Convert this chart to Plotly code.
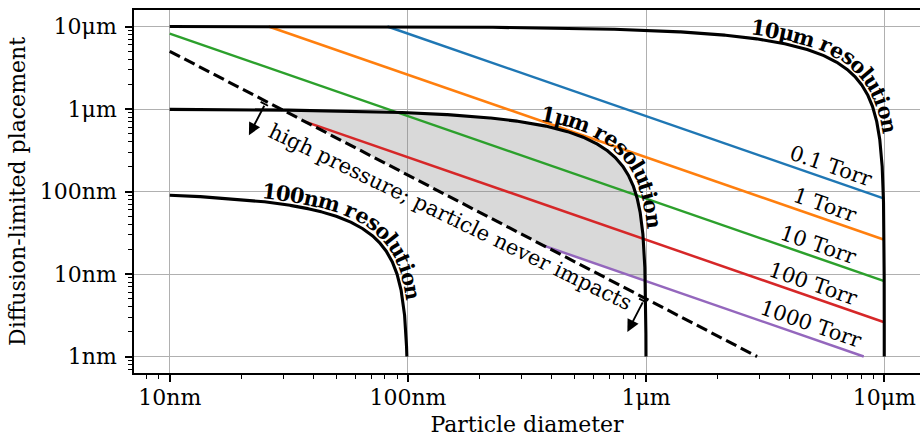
import numpy as np
import plotly.graph_objects as go

# ---------------- data ----------------
x_tickvals = [1e-8, 1e-7, 1e-6, 1e-5]
x_ticktext = ["10nm", "100nm", "1μm", "10μm"]
y_tickvals = [1e-9, 1e-8, 1e-7, 1e-6, 1e-5]
y_ticktext = ["1nm", "10nm", "100nm", "1μm", "10μm"]

pressure_labels = ["0.1 Torr", "1 Torr", "10 Torr", "100 Torr", "1000 Torr"]
# diffusion-limited placement read at a 10 μm particle diameter (lines have slope -1)
placement_at_10um = [8.2e-8, 2.6e-8, 8.2e-9, 2.6e-9, 8.2e-10]
pressure_colors = ["#1f77b4", "#ff7f0e", "#2ca02c", "#d62728", "#9467bd"]

resolutions = [1e-7, 1e-6, 1e-5]
resolution_labels = ["100nm resolution", "1μm resolution", "10μm resolution"]

# high-pressure limit (dashed): placement at 10 nm diameter and log-log slope
hp_placement_at_10nm = 5.0e-6
hp_slope = -1.5

# data domain
X_MIN, X_MAX = 1e-8, 1e-5
Y_MIN, Y_MAX = 1e-9, 1e-5

# ---------------- layout constants ----------------
W, H = 920, 437
ML, MR, MT, MB = 134, 0, 10, 64
PW, PH = W - ML - MR, H - MT - MB
XR = [-8.15, -4.85]
YR = [-9.2, -4.8]
FONT = "DejaVu Serif"
FS = 22
LABEL_FS = 21
HP_FS = 21
BOLD_FS = 21


def lx2px(lx):
    return ML + (np.asarray(lx) - XR[0]) / (XR[1] - XR[0]) * PW


def ly2py(ly):
    return MT + (YR[1] - np.asarray(ly)) / (YR[1] - YR[0]) * PH


def px2lx(px):
    return XR[0] + (np.asarray(px) - ML) / PW * (XR[1] - XR[0])


def py2ly(py):
    return YR[1] - (np.asarray(py) - MT) / PH * (YR[1] - YR[0])


def hp_limit(x):
    return hp_placement_at_10nm * (np.asarray(x) / 1e-8) ** hp_slope


def res_curve(R, n=600):
    x1 = np.logspace(np.log10(X_MIN), np.log10(R / 2), n)
    y2 = np.logspace(np.log10(R / 2), np.log10(Y_MIN), n)[1:]
    x = np.concatenate([x1, R - y2])
    y = np.concatenate([R - x1, y2])
    return x, y


fig = go.Figure()

# ---------------- shaded feasible region ----------------
R1 = resolutions[1]
k_hi = placement_at_10um[-1] * 1e-5
xs, ys = res_curve(R1, 1500)
lower = np.maximum(hp_limit(xs), k_hi / xs)
ok = ys > lower
xf, yf, lf = xs[ok], ys[ok], lower[ok]
fig.add_trace(go.Scatter(
    x=np.concatenate([xf, xf[::-1]]), y=np.concatenate([yf, lf[::-1]]),
    fill="toself", fillcolor="rgba(128,128,128,0.30)", line=dict(width=0),
    mode="lines", hoverinfo="skip", showlegend=False))

# ---------------- pressure lines ----------------
for lab, p10, col in zip(pressure_labels, placement_at_10um, pressure_colors):
    k = p10 * 1e-5
    x_int = (k * (1e-8) ** hp_slope / hp_placement_at_10nm) ** (1.0 / (hp_slope + 1))
    x_lo = max(X_MIN, k / Y_MAX, x_int)
    x_hi = min(X_MAX, k / Y_MIN)
    xl = np.array([x_lo, x_hi])
    fig.add_trace(go.Scatter(x=xl, y=k / xl, mode="lines",
                             line=dict(color=col, width=2.5),
                             showlegend=False, name=lab))

# ---------------- high-pressure limit ----------------
x_end = 1e-8 * (Y_MIN / hp_placement_at_10nm) ** (1.0 / hp_slope)
xd = np.array([X_MIN, x_end])
fig.add_trace(go.Scatter(x=xd, y=hp_limit(xd), mode="lines",
                         line=dict(color="black", width=3.1, dash="11.5px,5px"),
                         showlegend=False))

# ---------------- resolution curves ----------------
for R in resolutions:
    xr, yr = res_curve(R)
    fig.add_trace(go.Scatter(x=xr, y=yr, mode="lines",
                             line=dict(color="black", width=3.1),
                             showlegend=False))

annotations = []

# ---------------- text along the resolution curves ----------------
BOLD_W = {"0": .696, "1": .696, "μ": .715, "m": 1.042, "n": .715, " ": .348,
          "r": .547, "e": .674, "s": .591, "o": .686, "l": .381, "u": .715,
          "t": .478, "i": .381}
label_start_px = [262, 541, 751]   # left edge of first character (pixels)
label_offset = [11, 12, 11]

for R, text, sp, off in zip(resolutions, resolution_labels, label_start_px, label_offset):
    xr, yr = res_curve(R, 3000)
    px = lx2px(np.log10(xr))
    py = ly2py(np.log10(yr))
    tx, ty = np.gradient(px), np.gradient(py)
    nrm = np.hypot(tx, ty)
    tx, ty = tx / nrm, ty / nrm
    ox, oy = px + off * ty, py - off * tx
    tx2, ty2 = np.gradient(ox), np.gradient(oy)
    seg = np.hypot(np.diff(ox), np.diff(oy))
    s = np.concatenate([[0], np.cumsum(seg)])
    i0 = int(np.argmin(np.abs(ox - sp)))
    s_cur = s[i0]
    for ch in text:
        w = BOLD_W.get(ch, 0.65) * BOLD_FS * 0.98
        sc = s_cur + w / 2
        cx = np.interp(sc, s, ox)
        cy = np.interp(sc, s, oy)
        ax_ = np.interp(sc, s, tx2)
        ay_ = np.interp(sc, s, ty2)
        ang = np.degrees(np.arctan2(ay_, ax_))
        s_cur += w
        if ch == " ":
            continue
        annotations.append(dict(
            x=float(px2lx(cx)), y=float(py2ly(cy)), xref="x", yref="y",
            text=ch, showarrow=False, textangle=float(ang),
            xanchor="center", yanchor="middle",
            font=dict(family=FONT, size=BOLD_FS, color="black", weight="bold")))

# ---------------- pressure labels ----------------
theta = np.arctan((PH / (YR[1] - YR[0])) / (PW / (XR[1] - XR[0])))
label_lx = [-5.243, -5.268, -5.294, -5.315, -5.327]
for lab, p10, lx in zip(pressure_labels, placement_at_10um, label_lx):
    k = p10 * 1e-5
    ly = np.log10(k) - lx
    cx = lx2px(lx) + 13 * np.sin(theta)
    cy = ly2py(ly) - 13 * np.cos(theta)
    annotations.append(dict(
        x=float(px2lx(cx)), y=float(py2ly(cy)), xref="x", yref="y",
        text=lab, showarrow=False, textangle=float(np.degrees(theta)),
        xanchor="center", yanchor="middle",
        font=dict(family=FONT, size=LABEL_FS, color="black")))

# ---------------- high-pressure annotation ----------------
phi = np.arctan(-hp_slope * (PH / (YR[1] - YR[0])) / (PW / (XR[1] - XR[0])))
nx, ny = -np.sin(phi), np.cos(phi)   # perpendicular, pointing down-left
lx_c = -6.838
ly_c = np.log10(hp_limit(10 ** lx_c))
cx = lx2px(lx_c) + 25 * nx + 15
cy = ly2py(ly_c) + 25 * ny
annotations.append(dict(
    x=float(px2lx(cx)), y=float(py2ly(cy)), xref="x", yref="y",
    text="high pressure; particle never impacts", showarrow=False,
    textangle=float(np.degrees(phi)) - 1.6, xanchor="center", yanchor="middle",
    font=dict(family=FONT, size=HP_FS, color="black")))

for lx_t in [-7.594, -6.005]:
    ly_t = np.log10(hp_limit(10 ** lx_t))
    tpx = lx2px(lx_t) + 3 * nx
    tpy = ly2py(ly_t) + 3 * ny
    hpx = tpx + 35 * nx
    hpy = tpy + 35 * ny
    annotations.append(dict(
        x=float(px2lx(hpx)), y=float(py2ly(hpy)), xref="x", yref="y",
        ax=float(tpx - hpx), ay=float(tpy - hpy), axref="pixel", ayref="pixel",
        text="", showarrow=True, arrowhead=2, arrowsize=1.3, arrowwidth=1.9,
        arrowcolor="black"))
    # small bar at the tail
    bx, by = np.cos(phi), np.sin(phi)
    annotations.append(dict(
        x=float(px2lx(tpx - 5 * bx)), y=float(py2ly(tpy - 5 * by)), xref="x", yref="y",
        ax=float(10 * bx), ay=float(10 * by), axref="pixel", ayref="pixel",
        text="", showarrow=True, arrowhead=0, arrowwidth=1.9, arrowcolor="black"))

# ---------------- axes ----------------
def minor_vals(lo, hi):
    out = []
    for e in range(lo, hi):
        for m in range(2, 10):
            out.append(m * 10.0 ** e)
    return out


axis_common = dict(
    type="log", showline=True, linecolor="black", linewidth=1.7,
    ticks="outside", ticklen=7, tickwidth=1.5, tickcolor="black",
    showgrid=True, gridcolor="#b0b0b0", gridwidth=1.4, zeroline=False,
    tickfont=dict(family=FONT, size=FS, color="black"),
)

fig.update_layout(
    width=W, height=H,
    margin=dict(l=ML, r=MR, t=MT, b=MB),
    paper_bgcolor="white", plot_bgcolor="white",
    showlegend=False,
    annotations=annotations,
    xaxis=dict(**axis_common, range=XR, mirror=True,
               tickvals=x_tickvals, ticktext=x_ticktext,
               ticklabelstandoff=-3,
               minor=dict(ticks="outside", ticklen=4, tickwidth=1.2, tickcolor="black",
                          tickvals=minor_vals(-9, -4), showgrid=False),
               title=dict(text="Particle diameter", standoff=7,
                          font=dict(family=FONT, size=FS, color="black"))),
    yaxis=dict(**axis_common, range=YR, mirror=False,
               tickvals=y_tickvals, ticktext=y_ticktext,
               ticklabelstandoff=4,
               minor=dict(ticks="outside", ticklen=4, tickwidth=1.2, tickcolor="black",
                          tickvals=minor_vals(-10, -4), showgrid=False),
               title=dict(text="Diffusion-limited placement", standoff=8,
                          font=dict(family=FONT, size=FS, color="black"))),
)

fig.write_html("out.html", config={"displayModeBar": False},
               post_script="document.body.style.margin='0px';")
